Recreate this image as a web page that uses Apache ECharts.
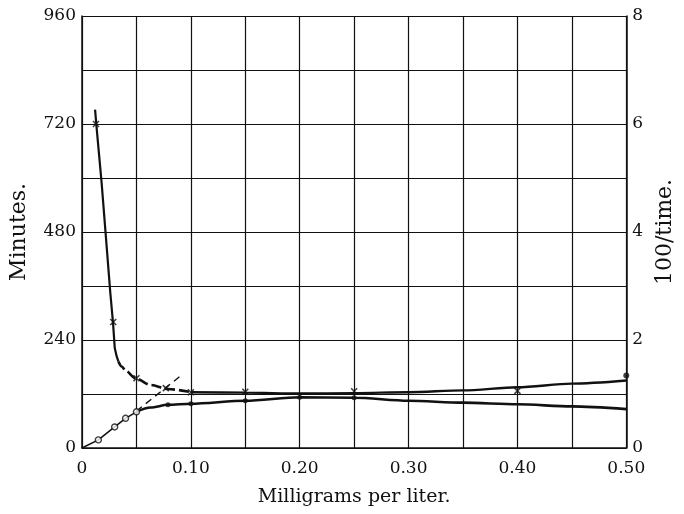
<!DOCTYPE html>
<html><head><meta charset="utf-8">
<script src="https://cdn.jsdelivr.net/npm/echarts/dist/echarts.min.js"></script>
<style>html,body{margin:0;padding:0;background:#fff}#c{width:684px;height:514px}</style>
</head><body><div id="c"></div>
<script>
// Tick labels
const xTickLabels = ['0', '0.10', '0.20', '0.30', '0.40', '0.50'];
const leftTickLabels = ['0', '240', '480', '720', '960'];
const rightTickLabels = ['0', '2', '4', '6', '8'];

// Time curve (Minutes, left axis)
const timeX   = [0.0120, 0.0136, 0.018, 0.0216, 0.026, 0.0285, 0.0301, 0.0318, 0.0335, 0.0365, 0.040, 0.049, 0.063, 0.079, 0.10, 0.15, 0.20, 0.25, 0.30, 0.35, 0.40, 0.45, 0.50];
const timeMin = [752,    707,    590,   480,    345,   278,    222,    204,    192,    181,    172,   155,   140,   131,   124,  123,  121,  122,  124,  128,  135,  143,  150];
// Index where the broken (dashed) stretch of the time curve begins / ends
const timeDashFrom = 8, timeDashTo = 14;
// Observed time points (marks)
const timeMarkX = [0.0128, 0.0287, 0.05, 0.077, 0.10, 0.15, 0.25, 0.40];
const timeMarkY = [720,    280,    155,  133,   124,  125,  126,  127];
const endDotX = [0.50];
const endDotY = [161];

// Rate curve (100/time, right axis)
const rateX = [0, 0.015, 0.03, 0.04, 0.05, 0.063, 0.079, 0.10, 0.15, 0.20, 0.25, 0.30, 0.35, 0.40, 0.45, 0.50];
const rateY = [0, 0.15,  0.39, 0.55, 0.67, 0.75,  0.80,  0.82, 0.875, 0.94, 0.93, 0.875, 0.84, 0.81, 0.77, 0.72];
const rateThinTo = 4; // thin straight start up to this index
const rateOpenX = [0.015, 0.03, 0.04, 0.05];
const rateOpenY = [0.15,  0.39, 0.55, 0.67];
const rateDotX = [0.079, 0.10, 0.15, 0.20, 0.25];
const rateDotY = [0.80,  0.82, 0.875, 0.94, 0.93];

// Dashed extrapolation line (left-axis units)
const extX = [0.05, 0.092];
const extY = [82, 163];

const zip = (a, b) => a.map((v, i) => [v, b[i]]);
const FONT = 'DejaVu Serif';
const INK = '#111';

const timePts = zip(timeX, timeMin);
const ratePts = zip(rateX, rateY);

const chart = echarts.init(document.getElementById('c'), null, {renderer: 'canvas'});
chart.setOption({
  animation: false,
  backgroundColor: '#fff',
  grid: {left: 78, right: 50, top: 16, bottom: 66, show: false},
  xAxis: {
    type: 'value', min: 0, max: 0.5, interval: 0.05,
    name: 'Milligrams per liter.', nameLocation: 'middle', nameGap: 40,
    nameTextStyle: {fontFamily: FONT, fontSize: 19, color: INK},
    axisLine: {show: true, lineStyle: {color: INK, width: 1.5}},
    axisTick: {show: false},
    axisLabel: {
      fontFamily: FONT, fontSize: 17, color: INK, margin: 12,
      showMinLabel: true, showMaxLabel: true,
      formatter: v => {
        const k = Math.round(v / 0.1);
        return Math.abs(v - k * 0.1) < 1e-6 ? (xTickLabels[k] || '') : '';
      }
    },
    splitLine: {show: true, lineStyle: {color: INK, width: 1.2}}
  },
  yAxis: [{
    type: 'value', min: 0, max: 960, interval: 120, position: 'left',
    name: 'Minutes.', nameLocation: 'middle', nameGap: 52, nameRotate: 90,
    nameTextStyle: {fontFamily: FONT, fontSize: 22, color: INK},
    axisLine: {show: true, lineStyle: {color: INK, width: 1.5}},
    axisTick: {show: false},
    axisLabel: {
      fontFamily: FONT, fontSize: 17, color: INK, margin: 6,
      showMinLabel: true, showMaxLabel: true,
      formatter: v => {
        const k = Math.round(v / 240);
        return Math.abs(v - k * 240) < 1e-6 ? (leftTickLabels[k] || '') : '';
      }
    },
    splitLine: {show: true, lineStyle: {color: INK, width: 1.2}}
  }, {
    type: 'value', min: 0, max: 8, interval: 1, position: 'right',
    name: '100/time.', nameLocation: 'middle', nameGap: 22, nameRotate: 90,
    nameTextStyle: {fontFamily: FONT, fontSize: 22, color: INK},
    axisLine: {show: true, lineStyle: {color: INK, width: 1.5}},
    axisTick: {show: false},
    axisLabel: {
      fontFamily: FONT, fontSize: 17, color: INK, margin: 6,
      showMinLabel: true, showMaxLabel: true,
      formatter: v => {
        const k = Math.round(v / 2);
        return Math.abs(v - k * 2) < 1e-6 ? (rightTickLabels[k] || '') : '';
      }
    },
    splitLine: {show: false}
  }],
  series: [
    {type: 'line', yAxisIndex: 0, data: timePts.slice(0, timeDashFrom + 1), showSymbol: false,
     smooth: false, lineStyle: {color: INK, width: 2.2}, z: 5},
    {type: 'line', yAxisIndex: 0, data: timePts.slice(timeDashFrom, timeDashTo + 1), showSymbol: false,
     smooth: 0.3, smoothMonotone: 'x', lineStyle: {color: INK, width: 2.6, type: [10, 4]}, z: 5},
    {type: 'line', yAxisIndex: 0, data: timePts.slice(timeDashTo), showSymbol: false,
     smooth: 0.3, smoothMonotone: 'x', lineStyle: {color: INK, width: 2.4}, z: 5},
    {type: 'line', yAxisIndex: 1, data: ratePts.slice(0, rateThinTo + 1), showSymbol: false,
     lineStyle: {color: INK, width: 1.5}, z: 5},
    {type: 'line', yAxisIndex: 1, data: ratePts.slice(rateThinTo), showSymbol: false,
     smooth: 0.3, smoothMonotone: 'x', lineStyle: {color: INK, width: 2.6}, z: 5},
    {type: 'line', yAxisIndex: 0, data: zip(extX, extY), showSymbol: false,
     lineStyle: {color: INK, width: 1.4, type: [7, 5]}, z: 5},
    {type: 'scatter', yAxisIndex: 0, data: zip(timeMarkX, timeMarkY),
     symbol: 'path://M0,0L10,10M10,0L0,10', symbolSize: 6,
     itemStyle: {color: 'rgba(0,0,0,0)', borderColor: INK, borderWidth: 1.6}, z: 6},
    {type: 'scatter', yAxisIndex: 0, data: zip(endDotX, endDotY), symbol: 'circle', symbolSize: 6,
     itemStyle: {color: INK}, z: 6},
    {type: 'scatter', yAxisIndex: 1, data: zip(rateOpenX, rateOpenY), symbol: 'circle', symbolSize: 6,
     itemStyle: {color: '#fff', borderColor: INK, borderWidth: 1.4}, z: 6},
    {type: 'scatter', yAxisIndex: 1, data: zip(rateDotX, rateDotY), symbol: 'circle', symbolSize: 5,
     itemStyle: {color: INK}, z: 6}
  ]
});
</script>
</body></html>
